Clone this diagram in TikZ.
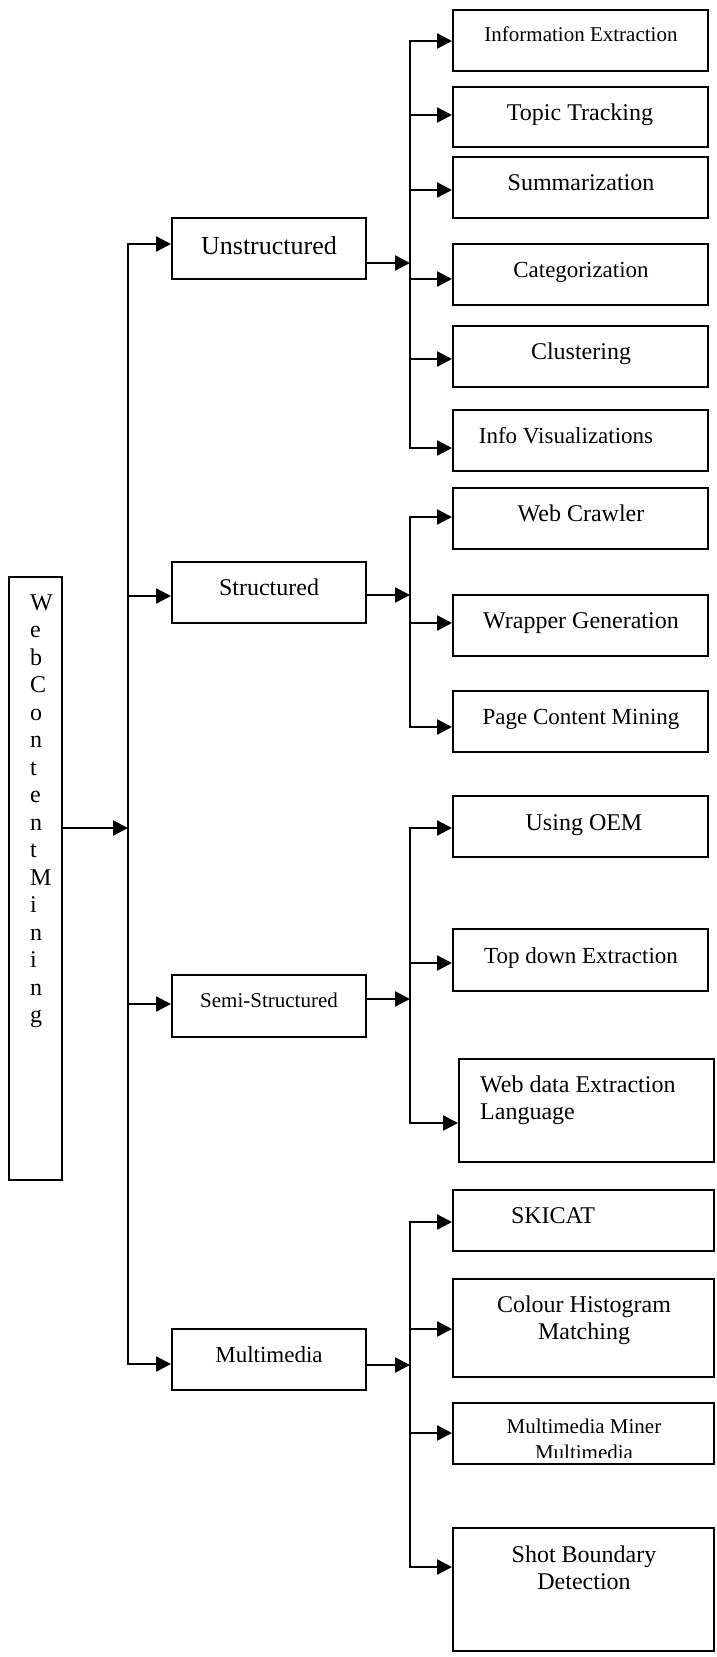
\documentclass[tikz,border=0pt]{standalone}
\usepackage{fontspec}
\setmainfont{Liberation Serif}
\usetikzlibrary{arrows.meta,fit}

\begin{document}
\begin{tikzpicture}[x=1pt,y=-1pt,
  box/.style={draw, line width=2pt, inner sep=0pt},
  conn/.style={line width=2.4pt, line cap=rect},
  arr/.style={line width=2.4pt, -{Triangle[length=15pt,width=15pt]}},
  lbl/.style={anchor=base, inner sep=0pt},
  fs/.style={font=\fontsize{#1}{#1}\selectfont},
]
\useasboundingbox (0,0) rectangle (716,1657);

% ---- root ----
\node[box, fit={(9,577) (62,1180)}] (wcm) {};
\foreach \ch [count=\i] in {W,e,b,C,o,n,t,e,n,t,M,i,n,i,n,g}
  \node[inner sep=0pt, anchor=base west, fs=24] (wcm-\i) at (30,{610+27.53*(\i-1)}) {\ch};

% ---- first level ----
\node[box, fit={(172,218) (366,279)}]  (unstr) {};
\node[box, fit={(172,562) (366,623)}]  (str) {};
\node[box, fit={(172,975) (366,1037)}] (semi) {};
\node[box, fit={(172,1329) (366,1390)}] (mm) {};
\node[lbl, fs=26] (unstr-t) at (269,254) {Unstructured};
\node[lbl, fs=24] (str-t)   at (269,595) {Structured};
\node[lbl, fs=21] (semi-t)  at (269,1007) {Semi-Structured};
\node[lbl, fs=23] (mm-t)    at (269,1362) {Multimedia};

% ---- unstructured techniques ----
\node[box, fit={(453,10) (708,71)}]   (ie) {};
\node[box, fit={(453,87) (708,147)}]  (tt) {};
\node[box, fit={(453,157) (708,218)}] (sum) {};
\node[box, fit={(453,244) (708,305)}] (cat) {};
\node[box, fit={(453,326) (708,387)}] (clu) {};
\node[box, fit={(453,410) (708,471)}] (iv) {};
\node[lbl, fs=21] (ie-t)  at (581,41)  {Information Extraction};
\node[lbl, fs=24] (tt-t)  at (580,120) {Topic Tracking};
\node[lbl, fs=24] (sum-t) at (581,190) {Summarization};
\node[lbl, fs=23] (cat-t) at (581,277) {Categorization};
\node[lbl, fs=24] (clu-t) at (581,359) {Clustering};
\node[lbl, fs=23] (iv-t)  at (566,443) {Info Visualizations};

% ---- structured techniques ----
\node[box, fit={(453,488) (708,549)}] (wc) {};
\node[box, fit={(453,595) (708,656)}] (wg) {};
\node[box, fit={(453,691) (708,752)}] (pcm) {};
\node[lbl, fs=24] (wc-t)  at (581,521) {Web Crawler};
\node[lbl, fs=24] (wg-t)  at (581,628) {Wrapper Generation};
\node[lbl, fs=23] (pcm-t) at (581,724) {Page Content Mining};

% ---- semi-structured techniques ----
\node[box, fit={(453,796) (708,857)}]   (oem) {};
\node[box, fit={(453,929) (708,991)}]   (tde) {};
\node[box, fit={(459,1059) (714,1162)}] (wdel) {};
\node[lbl, fs=24] (oem-t) at (584,830) {Using OEM};
\node[lbl, fs=23] (tde-t) at (581,963) {Top down Extraction};
\node[lbl, fs=24, anchor=base west] (wdel-t1) at (480,1092) {Web data Extraction};
\node[lbl, fs=24, anchor=base west] (wdel-t2) at (480,1119) {Language};

% ---- multimedia techniques ----
\node[box, fit={(453,1190) (714,1251)}] (sk) {};
\node[box, fit={(453,1279) (714,1377)}] (chm) {};
\node[box, fit={(453,1403) (714,1464)}] (mmm) {};
\node[box, fit={(453,1528) (714,1651)}] (sbd) {};
\node[lbl, fs=24] (sk-t)   at (553,1223) {SKICAT};
\node[lbl, fs=24] (chm-t1) at (584,1312) {Colour Histogram};
\node[lbl, fs=24] (chm-t2) at (584,1339) {Matching};
\begin{scope}
  \clip (455,1405) rectangle (712,1457);
  \node[lbl, fs=21] (mmm-t1) at (584,1433) {Multimedia Miner};
  \node[lbl, fs=21] (mmm-t2) at (584,1459) {Multimedia};
\end{scope}
\node[lbl, fs=24] (sbd-t1) at (584,1562) {Shot Boundary};
\node[lbl, fs=24] (sbd-t2) at (584,1589) {Detection};

% ---- main bus ----
\coordinate (mbU)  at (128,244);
\coordinate (mbS)  at (128,596);
\coordinate (mbW)  at (128,828);
\coordinate (mbSS) at (128,1004);
\coordinate (mbM)  at (128,1364);
\draw[conn] (mbU) -- (mbM);
\draw[arr] (wcm.east |- mbW) -- (mbW);
\draw[arr] (mbU)  -- (mbU -| unstr.west);
\draw[arr] (mbS)  -- (mbS -| str.west);
\draw[arr] (mbSS) -- (mbSS -| semi.west);
\draw[arr] (mbM)  -- (mbM -| mm.west);

% ---- unstructured bus ----
\coordinate (uj) at (410,263);
\coordinate (u1) at (410,41);
\coordinate (u2) at (410,115);
\coordinate (u3) at (410,190);
\coordinate (u4) at (410,279);
\coordinate (u5) at (410,359);
\coordinate (u6) at (410,448);
\draw[arr] (unstr.east |- uj) -- (uj);
\draw[conn] (u1) -- (u6);
\draw[arr] (u1) -- (u1 -| ie.west);
\draw[arr] (u2) -- (u2 -| tt.west);
\draw[arr] (u3) -- (u3 -| sum.west);
\draw[arr] (u4) -- (u4 -| cat.west);
\draw[arr] (u5) -- (u5 -| clu.west);
\draw[arr] (u6) -- (u6 -| iv.west);

% ---- structured bus ----
\coordinate (sj) at (410,595);
\coordinate (s1) at (410,517);
\coordinate (s2) at (410,623);
\coordinate (s3) at (410,727);
\draw[arr] (str.east |- sj) -- (sj);
\draw[conn] (s1) -- (s3);
\draw[arr] (s1) -- (s1 -| wc.west);
\draw[arr] (s2) -- (s2 -| wg.west);
\draw[arr] (s3) -- (s3 -| pcm.west);

% ---- semi-structured bus ----
\coordinate (ssj) at (410,999);
\coordinate (ss1) at (410,828);
\coordinate (ss2) at (410,963);
\coordinate (ss3) at (410,1123);
\draw[arr] (semi.east |- ssj) -- (ssj);
\draw[conn] (ss1) -- (ss3);
\draw[arr] (ss1) -- (ss1 -| oem.west);
\draw[arr] (ss2) -- (ss2 -| tde.west);
\draw[arr] (ss3) -- (ss3 -| wdel.west);

% ---- multimedia bus ----
\coordinate (mj) at (410,1365);
\coordinate (m1) at (410,1222);
\coordinate (m2) at (410,1329);
\coordinate (m3) at (410,1433);
\coordinate (m4) at (410,1567);
\draw[arr] (mm.east |- mj) -- (mj);
\draw[conn] (m1) -- (m4);
\draw[arr] (m1) -- (m1 -| sk.west);
\draw[arr] (m2) -- (m2 -| chm.west);
\draw[arr] (m3) -- (m3 -| mmm.west);
\draw[arr] (m4) -- (m4 -| sbd.west);
\end{tikzpicture}
\end{document}
